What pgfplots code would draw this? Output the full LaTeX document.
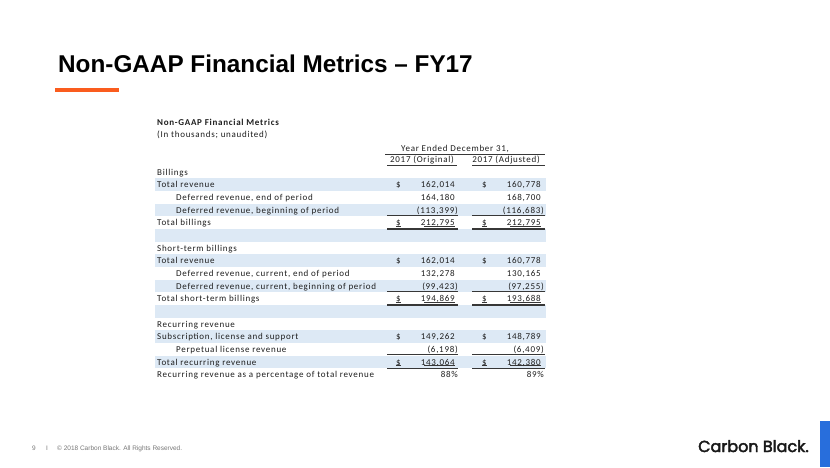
\documentclass[border=0pt]{standalone}
\usepackage{pgfplots}
\pgfplotsset{compat=1.18}
\usepackage{fontspec}
\setmainfont{Liberation Sans}
\newfontfamily\tabfont{Carlito}[LetterSpace=8]
\newfontfamily\logofont{Poppins}[FakeBold=2.6]
\definecolor{cbOrange}{RGB}{250,92,30}
\definecolor{cbBlue}{RGB}{40,110,220}
\definecolor{rowBlue}{RGB}{221,233,245}
\definecolor{tabText}{RGB}{30,30,30}
\definecolor{footGray}{RGB}{120,120,120}
\definecolor{ruleDark}{RGB}{55,55,55}
\tikzset{
  lab/.style={anchor=base west, inner sep=0pt, text=tabText, font=\tabfont\fontsize{9}{10}\selectfont},
  num/.style={anchor=base east, inner sep=0pt, text=tabText, font=\tabfont\fontsize{9}{10}\selectfont},
  dol/.style={anchor=base west, inner sep=0pt, text=tabText, font=\tabfont\fontsize{9}{10}\selectfont},
}
\newcommand{\lrow}[3]{\node[lab] at (axis cs:#1,#2+3.2) {#3};}
\newcommand{\vrow}[4]{%
  \node[num] at (axis cs:#2,#1+3.2) {#3};
  \node[num] at (axis cs:#2+86,#1+3.2) {#4};}
\newcommand{\drow}[1]{%
  \node[dol] at (axis cs:396,#1+3.2) {\$};
  \node[dol] at (axis cs:482,#1+3.2) {\$};}
\newcommand{\rowshade}[1]{\fill[rowBlue] (axis cs:155,#1-6.3) rectangle (axis cs:546,#1+6.3);}
\newcommand{\sline}[1]{%
  \draw[ruleDark, line width=0.6pt] (axis cs:387,#1+5) -- (axis cs:458,#1+5);
  \draw[ruleDark, line width=0.6pt] (axis cs:472,#1+5) -- (axis cs:545,#1+5);}
\newcommand{\dline}[1]{%
  \draw[ruleDark, line width=0.5pt] (axis cs:396,#1+3.8) -- (axis cs:401,#1+3.8);
  \draw[ruleDark, line width=0.5pt] (axis cs:424,#1+3.8) -- (axis cs:455,#1+3.8);
  \draw[ruleDark, line width=0.5pt] (axis cs:482,#1+3.8) -- (axis cs:487,#1+3.8);
  \draw[ruleDark, line width=0.5pt] (axis cs:510,#1+3.8) -- (axis cs:541,#1+3.8);
  \draw[ruleDark, line width=1.4pt] (axis cs:387,#1+6.4) -- (axis cs:458,#1+6.4);
  \draw[ruleDark, line width=1.4pt] (axis cs:472,#1+6.4) -- (axis cs:545,#1+6.4);}
\begin{document}
\begin{tikzpicture}
\begin{axis}[hide axis, scale only axis, width=830pt, height=467pt,
  xmin=0, xmax=830, ymin=0, ymax=467, y dir=reverse, clip=false]
\fill[white] (axis cs:0,0) rectangle (axis cs:830,467);
% title
\node[anchor=base west, inner sep=0pt, font=\bfseries\fontsize{24.3}{27}\selectfont] at (axis cs:58,72) {Non-GAAP Financial Metrics -- FY17};
\fill[cbOrange] (axis cs:55,87.6) rectangle (axis cs:119,91.6);
% shaded rows
\rowshade{184.7}\rowshade{210.0}\rowshade{235.3}\rowshade{260.6}\rowshade{285.9}\rowshade{311.2}\rowshade{336.5}\rowshade{361.8}
% table header
\node[lab, font=\tabfont\bfseries\fontsize{9}{10}\selectfont] at (axis cs:157,125) {Non-GAAP Financial Metrics};
\lrow{157}{134.6}{(In thousands; unaudited)}
\node[lab, anchor=base] at (axis cs:455,151) {Year Ended December 31,};
\draw[ruleDark, line width=0.6pt] (axis cs:385,154) -- (axis cs:545,154);
\node[lab, anchor=base] at (axis cs:422,162.5) {2017 (Original)};
\node[lab, anchor=base] at (axis cs:506,162.5) {2017 (Adjusted)};
\draw[ruleDark, line width=0.6pt] (axis cs:387,165.5) -- (axis cs:457,165.5);
\draw[ruleDark, line width=0.6pt] (axis cs:472,165.5) -- (axis cs:545,165.5);
% Billings
\lrow{157}{172.0}{Billings}
\lrow{157}{184.7}{Total revenue}\drow{184.7}\vrow{184.7}{455}{162,014}{160,778}
\lrow{176}{197.3}{Deferred revenue, end of period}\vrow{197.3}{455}{164,180}{168,700}
\lrow{176}{210.0}{Deferred revenue, beginning of period}\vrow{210.0}{458}{(113,399)}{(116,683)}\sline{210.0}
\lrow{157}{222.6}{Total billings}\drow{222.6}\vrow{222.6}{455}{212,795}{212,795}\dline{222.6}
% Short-term billings
\lrow{157}{247.9}{Short-term billings}
\lrow{157}{260.6}{Total revenue}\drow{260.6}\vrow{260.6}{455}{162,014}{160,778}
\lrow{176}{273.2}{Deferred revenue, current, end of period}\vrow{273.2}{455}{132,278}{130,165}
\lrow{176}{285.9}{Deferred revenue, current, beginning of period}\vrow{285.9}{458}{(99,423)}{(97,255)}\sline{285.9}
\lrow{157}{298.5}{Total short-term billings}\drow{298.5}\vrow{298.5}{455}{194,869}{193,688}\dline{298.5}
% Recurring revenue
\lrow{157}{323.8}{Recurring revenue}
\lrow{157}{336.5}{Subscription, license and support}\drow{336.5}\vrow{336.5}{455}{149,262}{148,789}
\lrow{176}{349.1}{Perpetual license revenue}\vrow{349.1}{458}{(6,198)}{(6,409)}\sline{349.1}
\lrow{157}{361.8}{Total recurring revenue}\drow{361.8}\vrow{361.8}{455}{143,064}{142,380}\dline{361.8}
\lrow{157}{374.4}{Recurring revenue as a percentage of total revenue}\vrow{374.4}{458}{88\%}{89\%}
% footer
\node[anchor=base west, inner sep=0pt, text=footGray, font=\fontsize{6.5}{8}\selectfont] at (axis cs:32,450.5) {9};
\node[anchor=base west, inner sep=0pt, text=footGray, font=\fontsize{6.5}{8}\selectfont] at (axis cs:46,450.5) {I};
\node[anchor=base west, inner sep=0pt, text=footGray, font=\fontsize{6.5}{8}\selectfont] at (axis cs:57,450.5) {\textcopyright{} 2018 Carbon Black. All Rights Reserved.};
\node[anchor=base west, inner sep=0pt, text=black!90, font=\logofont\fontsize{16}{18}\selectfont] at (axis cs:698,452) {Carbon Black.};
\fill[cbBlue] (axis cs:820,421) rectangle (axis cs:830,467);
\end{axis}
\end{tikzpicture}
\end{document}
